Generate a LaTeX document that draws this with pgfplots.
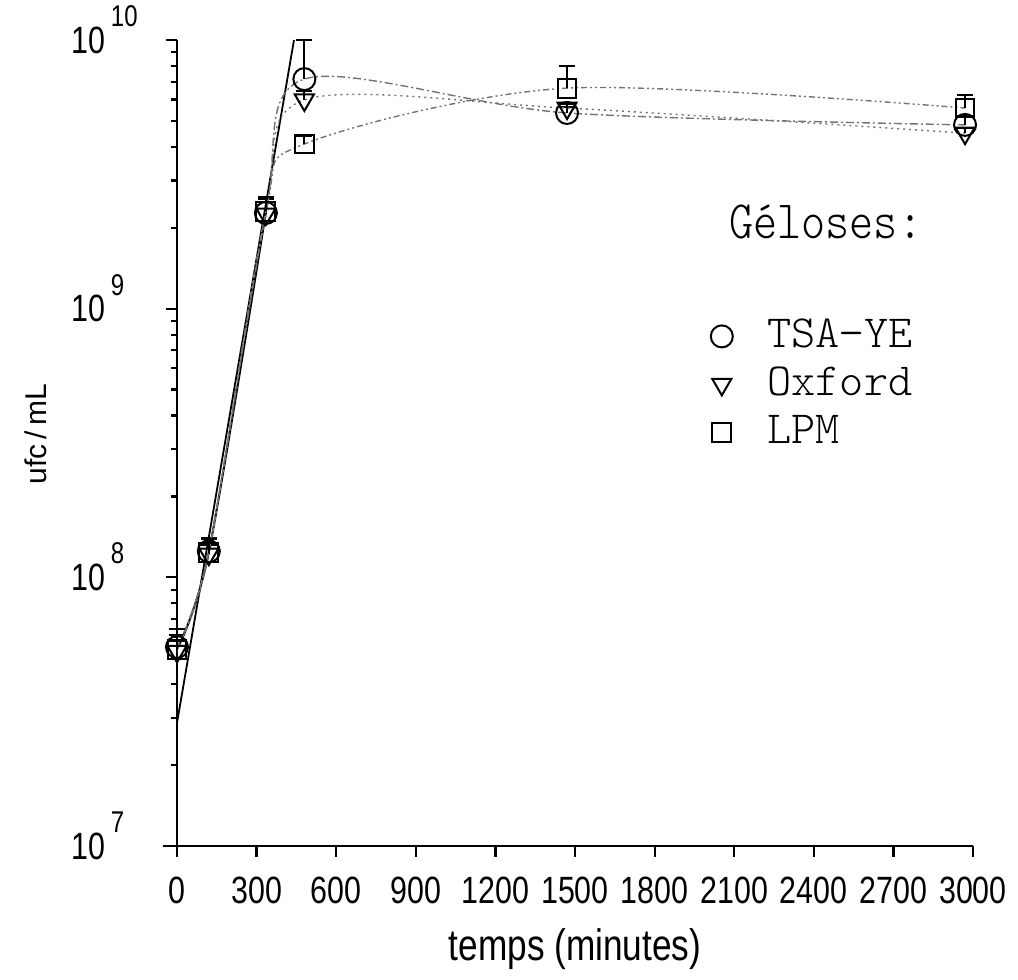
\documentclass[border=0pt]{standalone}
\usepackage{fontspec}
\usepackage{pgfplots}
\usepackage{pgfplotstable}
\pgfplotsset{compat=1.18}

% fonts: narrow sans for the axes, light typewriter serif for the legend
\newfontfamily\axfont{Liberation Sans}[FakeStretch=0.8]
\newfontfamily\ylfont{Liberation Sans}
\newfontfamily\lgfont{lmmonolt10-regular}[Extension=.otf]
\newfontfamily\hdfont{lmmonolt10-regular}[Extension=.otf, FakeStretch=0.85]
\newcommand\tickfont{\axfont\fontsize{19}{21}\selectfont}
\newcommand\labfont{\axfont\fontsize{22}{24}\selectfont}
\newcommand\expo[1]{\rlap{\smash{\kern3pt\raisebox{0.7em}{\fontsize{15}{15}\selectfont #1}}}}

% t (minutes), ufc/mL, standard deviation
\pgfplotstableread{
t     y        e
0     5.5e7    0.6e7
120   1.25e8   0.15e8
335   2.27e9   0.3e9
480   7.15e9   2.85e9
1470  5.35e9   0.3e9
2970  4.83e9   0.4e9
}\tsa
\pgfplotstableread{
t     y        e
0     5.3e7    0.5e7
120   1.22e8   0.1e8
335   2.25e9   0.3e9
480   5.98e9   0.5e9
1470  5.58e9   0.2e9
2970  4.50e9   0.2e9
}\oxford
\pgfplotstableread{
t     y        e
0     5.4e7    1.0e7
120   1.24e8   0.15e8
335   2.30e9   0.3e9
480   4.10e9   0.3e9
1470  6.62e9   1.38e9
2970  5.58e9   0.66e9
}\lpm

\begin{document}
\begin{tikzpicture}
\begin{axis}[
  name=ax,
  scale only axis, width=398pt, height=403pt,
  ymode=log, xmin=0, xmax=3000, ymin=1e7, ymax=1e10,
  axis lines=left,
  axis line style={-, line width=1.2pt, black},
  x axis line style={shorten <=-7pt},
  tick align=outside,
  major tick length=5.5pt, minor tick length=3pt,
  every tick/.style={black, line width=1.1pt},
  xtick={0,300,...,3000},
  ytick={1e7,1e8,1e9,1e10},
  minor ytick={2e7,3e7,4e7,5e7,6e7,7e7,8e7,9e7,
               2e8,3e8,4e8,5e8,6e8,7e8,8e8,9e8,
               2e9,3e9,4e9,5e9,6e9,7e9,8e9,9e9},
  yticklabels={10\expo{7},10\expo{8},10\expo{9},10\expo{10}},
  /pgf/number format/assume math mode=true,
  /pgf/number format/1000 sep={},
  xticklabel style={font=\tickfont, yshift=-6.5pt},
  yticklabel style={font=\tickfont, anchor=east, xshift=-27pt},
  xlabel={temps (minutes)},
  ylabel={ufc\,/\,mL},
  xlabel style={font=\labfont, at={(axis description cs:0.5,-0.128)}, anchor=center},
  ylabel style={font=\ylfont\fontsize{15}{17}\selectfont,
    at={(axis description cs:-0.178,0.511)}, anchor=center},
  clip=false,
  legend style={at={(rel axis cs:0.668,0.6625)}, anchor=north west,
    draw=none, fill=none, inner sep=0pt, row sep=0pt,
    font=\lgfont\fontsize{23}{25}\selectfont,
    nodes={text height=16pt, text depth=5pt, inner sep=1.5pt}},
  legend cell align=left,
  legend image code/.code={
    \path (-6pt,0pt) (21pt,0pt);
    \draw[#1, solid] plot coordinates {(0pt,0pt)};},
  every axis plot/.append style={
    line width=0.7pt, draw=black!55, smooth,
    error bars/y dir=plus, error bars/y explicit,
    error bars/error bar style={solid, black, line width=1pt},
    error bars/error mark options={rotate=90, mark size=4pt, black, line width=1pt}},
]
% growth phase: shared curve and fitted exponential line
\addplot[forget plot, solid, black, line width=1pt, no marks, error bars/y dir=none]
  coordinates {(0,5.4e7) (120,1.24e8) (335,2.28e9)};
\addplot[forget plot, solid, black, line width=0.9pt, no marks, sharp plot, error bars/y dir=none]
  coordinates {(0,2.87e7) (441,1e10)};

\addplot[dash pattern=on 4pt off 1.5pt on 1pt off 1.5pt, mark=o,
  mark options={solid, draw=black, fill=none, line width=1pt, mark size=5.5pt}]
  table[x=t, y=y, y error=e] {\tsa};
\addlegendentry{TSA−YE}
\addplot[dash pattern=on 1pt off 2pt, mark=triangle,
  mark options={solid, draw=black, fill=none, line width=1pt, rotate=180, mark size=5.5pt}]
  table[x=t, y=y, y error=e] {\oxford};
\addlegendentry{Oxford}
\addplot[dash pattern=on 3pt off 1.5pt on 1pt off 1.5pt on 1pt off 1.5pt, mark=square,
  mark options={solid, draw=black, fill=none, line width=1pt, mark size=4.7pt}]
  table[x=t, y=y, y error=e] {\lpm};
\addlegendentry{LPM}

\node[font=\hdfont\fontsize{27}{29}\selectfont, anchor=base]
  at (rel axis cs:0.815,0.754) {Géloses:};
\end{axis}
\pgfresetboundingbox
\path[use as bounding box] (ax.south west) ++(-88.5pt,-67pt) rectangle ++(509pt,490pt);
\end{tikzpicture}
\end{document}
